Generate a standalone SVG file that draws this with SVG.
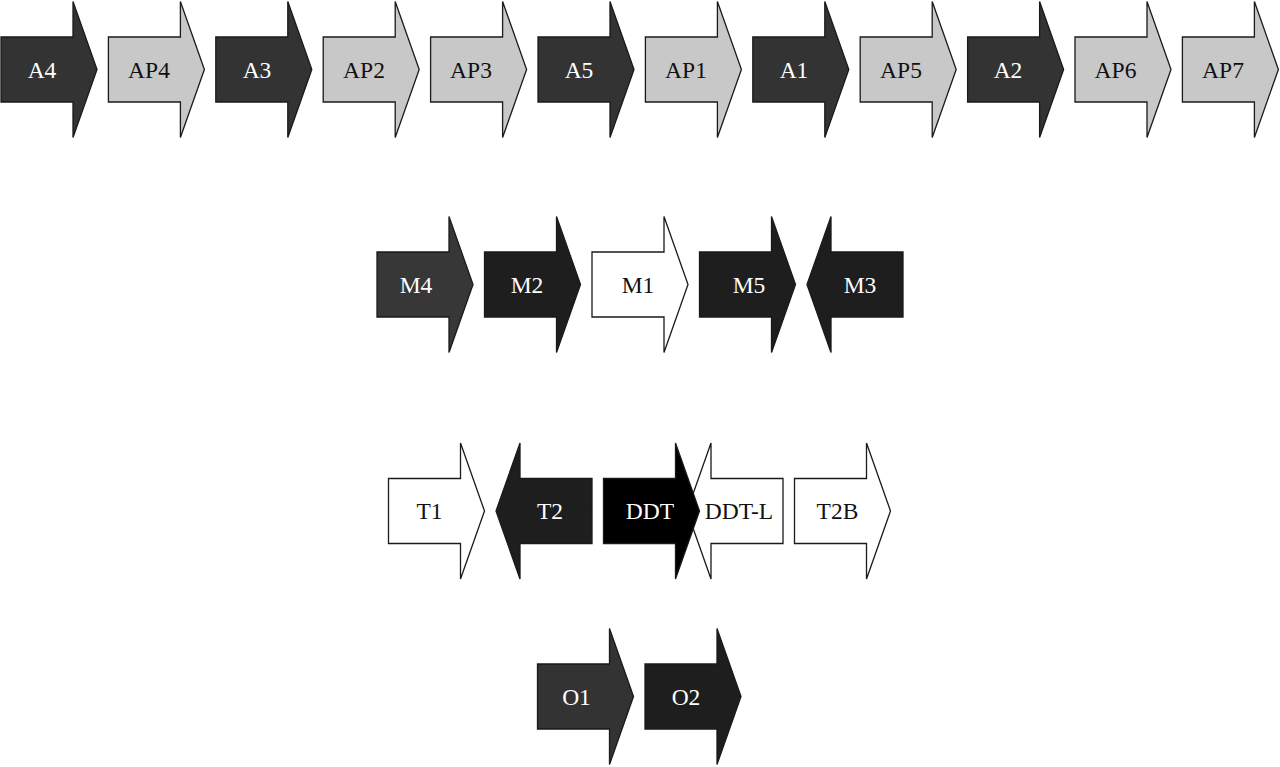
<svg xmlns="http://www.w3.org/2000/svg" width="1280" height="767" viewBox="0 0 1280 767">
<style>
.a{stroke:#1a1a1a;stroke-width:1.3;stroke-linejoin:miter}
.dk{fill:#333333}
.lt{fill:#c8c8c8}
.dm{fill:#373737}
.bk{fill:#1e1e1e}
.k{fill:#000000}
.w{fill:#ffffff}
text{font-family:"Liberation Serif","Times New Roman",serif;font-size:23.5px;text-anchor:middle}
.tw{fill:#ffffff}
.tb{fill:#111111}
</style>
<defs>
<polygon id="R" points="0,-32.5 72,-32.5 72,-68 96,0 72,68 72,32.5 0,32.5"/>
<polygon id="L" points="0,0 24,-68 24,-32.5 96,-32.5 96,32.5 24,32.5 24,68"/>
</defs>
<rect width="1280" height="767" fill="#ffffff"/>
<g id="connectors"></g>
<g id="A4"><use href="#R" class="a dk" x="1" y="69.5"/><text class="tw" x="42" y="77.5">A4</text></g>
<g id="AP4"><use href="#R" class="a lt" x="108.4" y="69.5"/><text class="tb" x="149" y="77.5">AP4</text></g>
<g id="A3"><use href="#R" class="a dk" x="215.8" y="69.5"/><text class="tw" x="257" y="77.5">A3</text></g>
<g id="AP2"><use href="#R" class="a lt" x="323.2" y="69.5"/><text class="tb" x="364" y="77.5">AP2</text></g>
<g id="AP3"><use href="#R" class="a lt" x="430.6" y="69.5"/><text class="tb" x="471" y="77.5">AP3</text></g>
<g id="A5"><use href="#R" class="a dk" x="538" y="69.5"/><text class="tw" x="579" y="77.5">A5</text></g>
<g id="AP1"><use href="#R" class="a lt" x="645.4" y="69.5"/><text class="tb" x="686" y="77.5">AP1</text></g>
<g id="A1"><use href="#R" class="a dk" x="752.8" y="69.5"/><text class="tw" x="794" y="77.5">A1</text></g>
<g id="AP5"><use href="#R" class="a lt" x="860.2" y="69.5"/><text class="tb" x="901" y="77.5">AP5</text></g>
<g id="A2"><use href="#R" class="a dk" x="967.6" y="69.5"/><text class="tw" x="1008" y="77.5">A2</text></g>
<g id="AP6"><use href="#R" class="a lt" x="1075" y="69.5"/><text class="tb" x="1115.5" y="77.5">AP6</text></g>
<g id="AP7"><use href="#R" class="a lt" x="1182.4" y="69.5"/><text class="tb" x="1223" y="77.5">AP7</text></g>

<g id="M4"><use href="#R" class="a dm" x="377" y="284.5"/><text class="tw" x="416" y="292.5">M4</text></g>
<g id="M2"><use href="#R" class="a bk" x="484.5" y="284.5"/><text class="tw" x="527" y="292.5">M2</text></g>
<g id="M1"><use href="#R" class="a w" x="592" y="284.5"/><text class="tb" x="638" y="292.5">M1</text></g>
<g id="M5"><use href="#R" class="a bk" x="699.5" y="284.5"/><text class="tw" x="749" y="292.5">M5</text></g>
<g id="M3"><use href="#L" class="a bk" x="807" y="284.5"/><text class="tw" x="860" y="292.5">M3</text></g>

<g id="T1"><use href="#R" class="a w" x="388.5" y="511"/><text class="tb" x="429.5" y="519">T1</text></g>
<g id="T2"><use href="#L" class="a bk" x="496" y="511"/><text class="tw" x="550" y="519">T2</text></g>
<g id="DDT-L"><use href="#L" class="a w" x="687" y="511"/><text class="tb" x="739" y="519">DDT-L</text></g>
<g id="DDT"><use href="#R" class="a k" x="603.5" y="511"/><text class="tw" x="650" y="519">DDT</text></g>
<g id="T2B"><use href="#R" class="a w" x="794.5" y="511"/><text class="tb" x="837.5" y="519">T2B</text></g>

<g id="O1"><use href="#R" class="a dk" x="537.5" y="696.5"/><text class="tw" x="576.5" y="704.5">O1</text></g>
<g id="O2"><use href="#R" class="a bk" x="645" y="696.5"/><text class="tw" x="686" y="704.5">O2</text></g>
</svg>
